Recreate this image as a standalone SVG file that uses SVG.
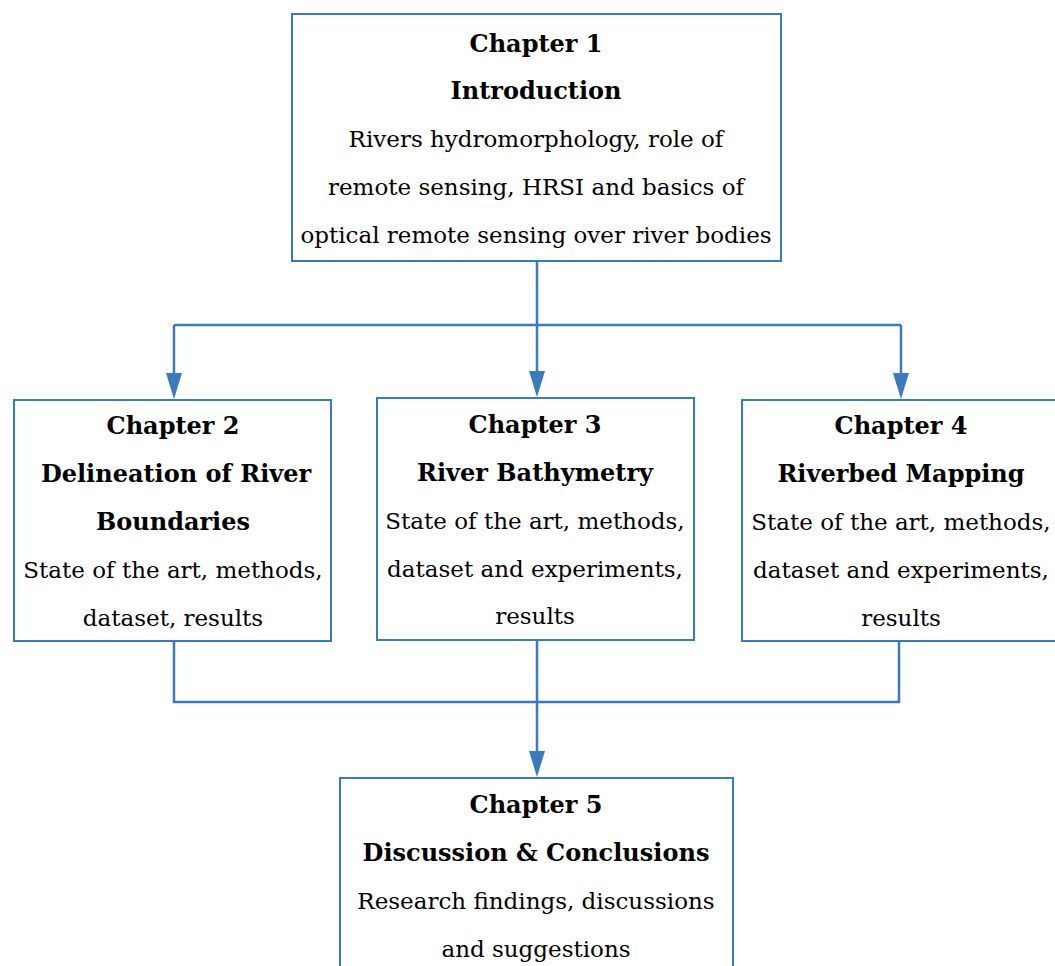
<svg xmlns="http://www.w3.org/2000/svg" width="1055" height="966" viewBox="0 0 1055 966">
<style>
.box{fill:#ffffff;stroke:#3a7abd;stroke-width:2}
.ln{fill:none;stroke:#3a7abd;stroke-width:2.5}
.ah{fill:#3a7abd}
text{font-family:"DejaVu Serif","Liberation Serif",serif;font-size:23px;fill:#000;text-anchor:middle}
.b{font-weight:bold;font-size:24px}
</style>
<rect width="1055" height="966" fill="#ffffff"/>
<g id="connectors">
<path class="ln" d="M537,261 V325"/>
<path class="ln" d="M174,325 H901"/>
<path class="ln" d="M174,325 V374"/>
<path class="ln" d="M537,325 V372"/>
<path class="ln" d="M901,325 V374"/>
<path class="ah" d="M166,373 L182,373 L174,399 Z"/>
<path class="ah" d="M529,371 L545,371 L537,397 Z"/>
<path class="ah" d="M893,373 L909,373 L901,399 Z"/>
<path class="ln" d="M174,641 V702 H899 V641"/>
<path class="ln" d="M537,640 V752"/>
<path class="ah" d="M529,751 L545,751 L537,777 Z"/>
</g>
<g id="ch1">
<rect class="box" x="292" y="14" width="489" height="247"/>
<text class="b" x="536" y="52">Chapter 1</text>
<text class="b" x="536" y="99">Introduction</text>
<text x="536" y="147">Rivers hydromorphology, role of</text>
<text x="536" y="195">remote sensing, HRSI and basics of</text>
<text x="536" y="243">optical remote sensing over river bodies</text>
</g>
<g id="ch2">
<rect class="box" x="14" y="400" width="317" height="241"/>
<text class="b" x="173" y="434">Chapter 2</text>
<text class="b" x="176" y="482">Delineation of River</text>
<text class="b" x="173" y="530">Boundaries</text>
<text x="173" y="578">State of the art, methods,</text>
<text x="173" y="626">dataset, results</text>
</g>
<g id="ch3">
<rect class="box" x="377" y="398" width="317" height="242"/>
<text class="b" x="535" y="433">Chapter 3</text>
<text class="b" x="535" y="481">River Bathymetry</text>
<text x="535" y="529">State of the art, methods,</text>
<text x="535" y="577">dataset and experiments,</text>
<text x="535" y="624">results</text>
</g>
<g id="ch4">
<rect class="box" x="742" y="400" width="330" height="241"/>
<text class="b" x="901" y="434">Chapter 4</text>
<text class="b" x="901" y="482">Riverbed Mapping</text>
<text x="901" y="530">State of the art, methods,</text>
<text x="901" y="578">dataset and experiments,</text>
<text x="901" y="626">results</text>
</g>
<g id="ch5">
<rect class="box" x="340" y="778" width="393" height="200"/>
<text class="b" x="536" y="813">Chapter 5</text>
<text class="b" x="536" y="861">Discussion &amp; Conclusions</text>
<text x="536" y="909">Research findings, discussions</text>
<text x="536" y="957">and suggestions</text>
</g>
</svg>
